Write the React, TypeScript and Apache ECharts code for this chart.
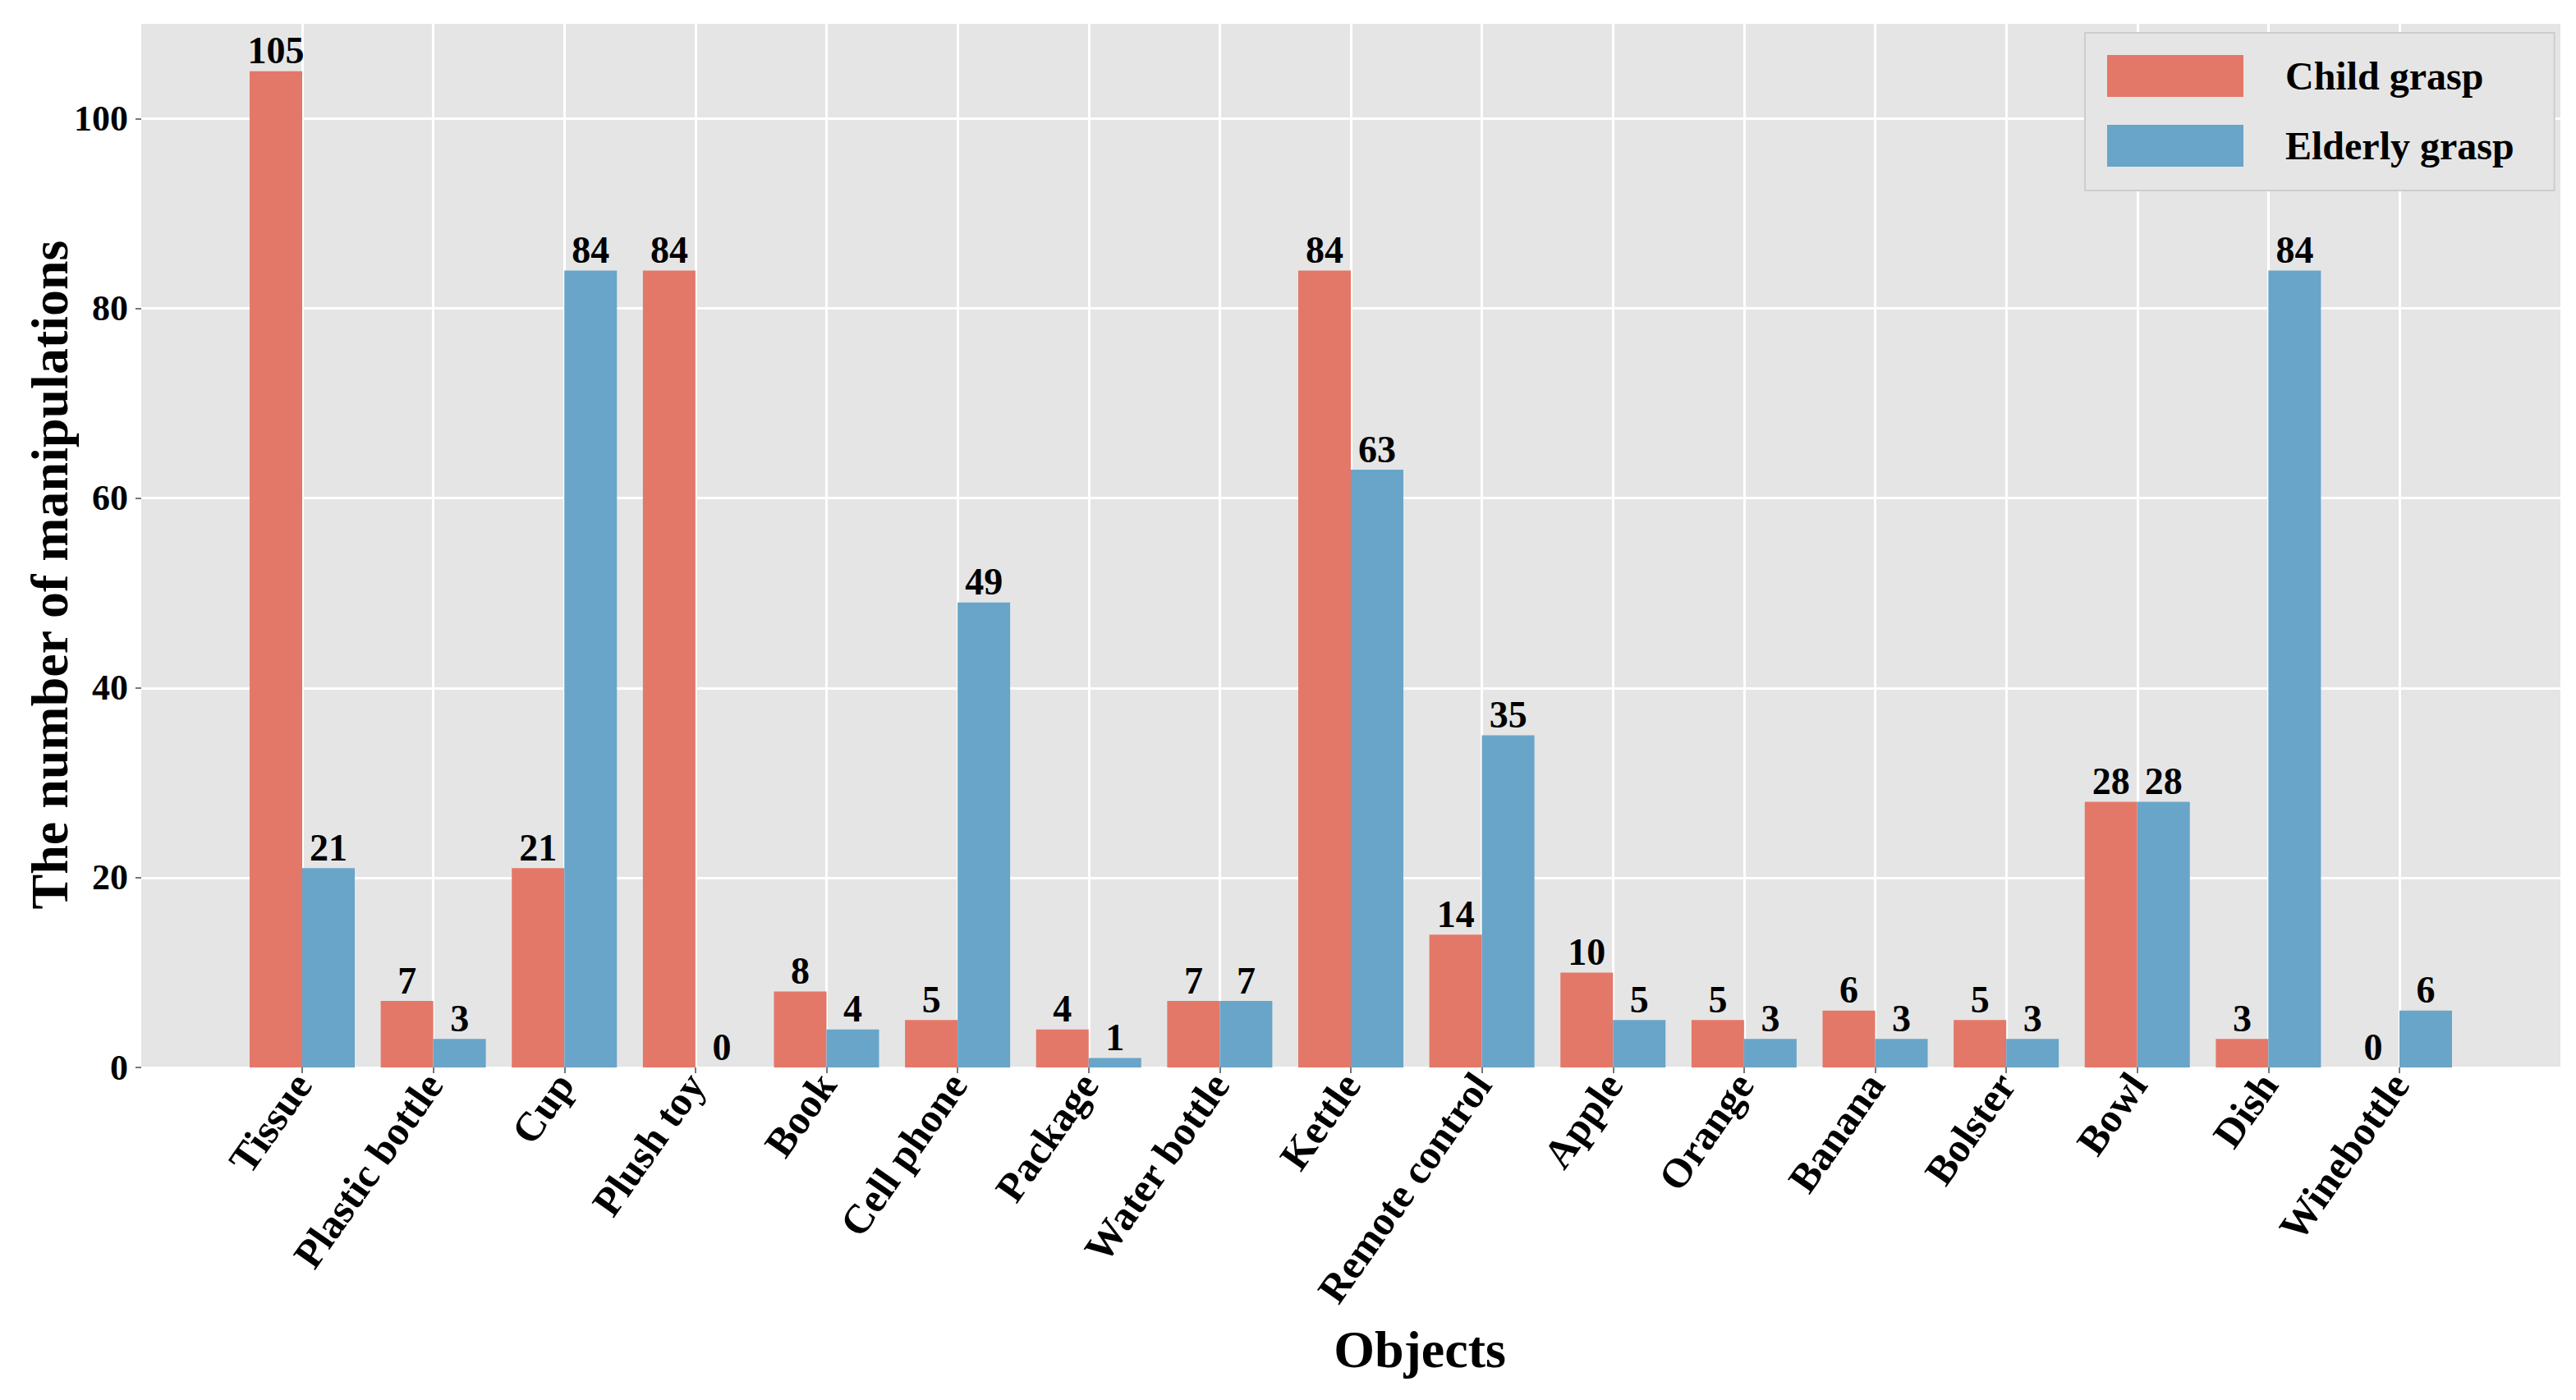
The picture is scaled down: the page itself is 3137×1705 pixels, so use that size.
import React, { useEffect, useRef } from "react";
import * as echarts from "echarts";

const categories = [
  "Tissue", "Plastic bottle", "Cup", "Plush toy", "Book", "Cell phone", "Package",
  "Water bottle", "Kettle", "Remote control", "Apple", "Orange", "Banana", "Bolster",
  "Bowl", "Dish", "Winebottle",
];
const childGrasp = [105, 7, 21, 84, 8, 5, 4, 7, 84, 14, 10, 5, 6, 5, 28, 3, 0];
const elderlyGrasp = [21, 3, 84, 0, 4, 49, 1, 7, 63, 35, 5, 3, 3, 3, 28, 84, 6];
const seriesNames = ["Child grasp", "Elderly grasp"];
const yTicks = { min: 0, max: 110, interval: 20 };
const yTitle = "The number of manipulations";
const xTitle = "Objects";

const FONT = "'Liberation Serif', 'Times New Roman', serif";
const RED = "#E37868";
const BLUE = "#69A5C9";

export default function App() {
  const ref = useRef<HTMLDivElement>(null);
  useEffect(() => {
    if (!ref.current) return;
    const chart = echarts.init(ref.current, undefined, { renderer: "svg" });
    const plotTop = 29;
    const plotBottom = 1300;
    const barLabel = {
      show: true,
      position: "top",
      distance: 2,
      fontFamily: FONT,
      fontWeight: "bold",
      fontSize: 46,
      color: "#000",
    };
    chart.setOption({
      animation: false,
      backgroundColor: "#ffffff",
      textStyle: { fontFamily: FONT },
      grid: [
        {
          left: 172,
          top: plotTop,
          width: 2946,
          height: plotBottom - plotTop,
          show: true,
          backgroundColor: "#E5E5E5",
          borderWidth: 0,
          containLabel: false,
        },
        {
          left: 368,
          top: plotTop,
          width: 2554,
          height: plotBottom - plotTop,
          show: false,
          containLabel: false,
        },
      ],
      xAxis: [
        { type: "value", gridIndex: 0, show: false, min: 0, max: 1 },
        {
          type: "category",
          gridIndex: 1,
          data: categories,
          boundaryGap: false,
          axisLine: { show: false },
          axisTick: { show: true, length: 7, lineStyle: { color: "#777", width: 2 } },
          axisLabel: {
            interval: 0,
            rotate: 55,
            margin: 12,
            padding: [20, 0, 0, 0],
            fontFamily: FONT,
            fontWeight: "bold",
            fontSize: 50,
            color: "#000",
          },
          splitLine: { show: true, lineStyle: { color: "#ffffff", width: 3 } },
        },
      ],
      yAxis: [
        {
          type: "value",
          gridIndex: 0,
          min: yTicks.min,
          max: yTicks.max,
          interval: yTicks.interval,
          axisLine: { show: false },
          axisTick: { show: true, length: 7, lineStyle: { color: "#777", width: 2 } },
          axisLabel: {
            showMaxLabel: false,
            margin: 16,
            fontFamily: FONT,
            fontWeight: "bold",
            fontSize: 44,
            color: "#000",
          },
          splitLine: { show: true, showMaxLine: false, lineStyle: { color: "#ffffff", width: 3 } },
        },
        {
          type: "value",
          gridIndex: 1,
          min: yTicks.min,
          max: yTicks.max,
          show: false,
          splitLine: { show: false },
        },
      ],
      legend: {
        orient: "vertical",
        left: 2539,
        top: 40,
        padding: [27, 49, 29, 27],
        backgroundColor: "#E5E5E5",
        borderColor: "#cdcdcd",
        borderWidth: 2,
        itemWidth: 166,
        itemHeight: 51,
        itemGap: 34,
        icon: "rect",
        data: seriesNames,
        textStyle: {
          fontFamily: FONT,
          fontWeight: "bold",
          fontSize: 48,
          color: "#000",
          lineHeight: 51,
          padding: [0, 0, 0, 46],
        },
      },
      series: [
        {
          name: seriesNames[0],
          type: "bar",
          xAxisIndex: 1,
          yAxisIndex: 1,
          data: childGrasp,
          barWidth: 64,
          barGap: "0%",
          clip: false,
          itemStyle: { color: RED },
          label: barLabel,
        },
        {
          name: seriesNames[1],
          type: "bar",
          xAxisIndex: 1,
          yAxisIndex: 1,
          data: elderlyGrasp,
          barWidth: 64,
          barGap: "0%",
          clip: false,
          itemStyle: { color: BLUE },
          label: barLabel,
        },
      ],
      graphic: [
        {
          type: "text",
          x: 60,
          y: 700,
          rotation: Math.PI / 2,
          style: {
            text: yTitle,
            fontFamily: FONT,
            fontWeight: "bold",
            fontSize: 64,
            fill: "#000",
            align: "center",
            verticalAlign: "middle",
          },
        },
        {
          type: "text",
          x: 1729,
          y: 1643,
          style: {
            text: xTitle,
            fontFamily: FONT,
            fontWeight: "bold",
            fontSize: 64,
            fill: "#000",
            align: "center",
            verticalAlign: "middle",
          },
        },
      ],
    });
    return () => chart.dispose();
  }, []);
  return (
    <div
      ref={ref}
      style={{ position: "fixed", left: 0, top: 0, width: "3137px", height: "1705px" }}
    />
  );
}
